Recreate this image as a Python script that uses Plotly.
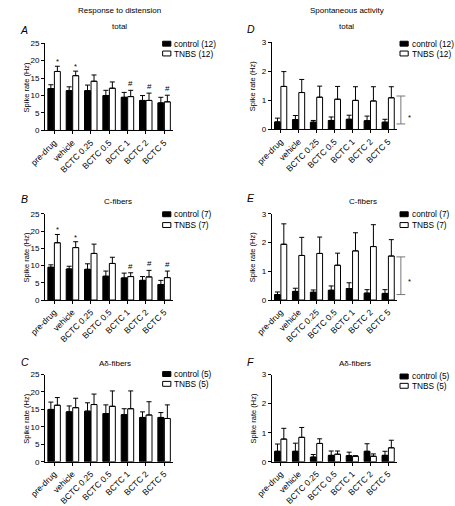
import plotly.graph_objects as go

W, H = 455, 506
FONT = "Liberation Sans, Arial, sans-serif"

categories = ["pre-drug", "vehicle", "BCTC 0.25", "BCTC 0.5", "BCTC 1", "BCTC 2", "BCTC 5"]

# Panel A: response to distension, total
A_control = [12.0, 11.4, 11.4, 10.0, 9.5, 8.6, 7.9]
A_control_sem = [1.1, 1.1, 1.6, 1.5, 1.4, 1.4, 1.6]
A_tnbs = [16.9, 15.7, 14.1, 12.1, 9.7, 8.6, 8.2]
A_tnbs_sem = [1.5, 1.3, 1.8, 1.8, 1.8, 2.1, 1.9]
A_marks = ["*", "*", "", "", "#", "#", "#"]

# Panel B: response to distension, C-fibers
B_control = [9.5, 9.0, 8.9, 6.9, 6.4, 5.7, 4.5]
B_control_sem = [0.7, 0.8, 1.6, 1.5, 1.4, 1.1, 1.2]
B_tnbs = [16.6, 15.2, 13.5, 10.6, 6.8, 6.7, 6.5]
B_tnbs_sem = [2.4, 1.7, 2.7, 1.8, 1.1, 1.9, 1.9]
B_marks = ["*", "*", "", "", "#", "#", "#"]

# Panel C: response to distension, A-delta fibers
C_control = [15.0, 14.3, 14.5, 13.8, 13.5, 12.7, 12.7]
C_control_sem = [2.1, 1.7, 2.4, 2.5, 1.7, 1.6, 1.4]
C_tnbs = [16.2, 15.5, 16.4, 15.9, 15.2, 13.4, 12.4]
C_tnbs_sem = [2.2, 2.7, 3.0, 4.4, 5.1, 3.8, 3.9]
C_marks = ["", "", "", "", "", "", ""]

# Panel D: spontaneous activity, total
D_control = [0.26, 0.34, 0.25, 0.31, 0.35, 0.30, 0.25]
D_control_sem = [0.13, 0.14, 0.06, 0.12, 0.14, 0.16, 0.10]
D_tnbs = [1.48, 1.27, 1.11, 1.04, 1.00, 0.98, 1.09]
D_tnbs_sem = [0.51, 0.45, 0.38, 0.44, 0.47, 0.49, 0.38]
D_bracket = [0.19, 1.15]
D_bracket_star = 0.40

# Panel E: spontaneous activity, C-fibers
E_control = [0.19, 0.30, 0.27, 0.34, 0.40, 0.24, 0.23]
E_control_sem = [0.09, 0.11, 0.08, 0.15, 0.20, 0.12, 0.13]
E_tnbs = [1.94, 1.55, 1.62, 1.21, 1.71, 1.86, 1.53]
E_tnbs_sem = [0.71, 0.63, 0.57, 0.42, 0.63, 0.76, 0.57]
E_bracket = [0.19, 1.50]
E_bracket_star = 0.65

# Panel F: spontaneous activity, A-delta fibers
F_control = [0.36, 0.36, 0.16, 0.22, 0.21, 0.36, 0.22]
F_control_sem = [0.25, 0.28, 0.09, 0.15, 0.12, 0.26, 0.14]
F_tnbs = [0.78, 0.84, 0.63, 0.26, 0.19, 0.19, 0.48]
F_tnbs_sem = [0.37, 0.34, 0.16, 0.11, 0.02, 0.08, 0.26]

legend_n = {"A": 12, "B": 7, "C": 5, "D": 12, "E": 7, "F": 5}
subtitles = {"A": "total", "B": "C-fibers", "C": "Aδ-fibers",
             "D": "total", "E": "C-fibers", "F": "Aδ-fibers"}
y_ranges = {"A": 25, "B": 25, "C": 25, "D": 3, "E": 3, "F": 3}
y_dtick = {"A": 5, "B": 5, "C": 5, "D": 1, "E": 1, "F": 1}


def px(x):
    return x / W


def py(y):
    return 1 - y / H


# layout geometry in pixels: (x0, x1, ytop, ybottom)
geom = {
    "A": (30, 163, 40, 129),
    "B": (30, 163, 214, 302),
    "C": (30, 163, 378, 467),
    "D": (265, 395, 39, 128),
    "E": (265, 395, 214, 302),
    "F": (265, 395, 378, 467),
}
letter_pos = {"A": (2, 27), "B": (3, 199), "C": (3, 365),
              "D": (237, 25), "E": (237, 198), "F": (237, 365)}
subtitle_pos = {"A": (107, 23), "B": (106, 201), "C": (103, 367),
                "D": (343, 23), "E": (360, 201), "F": (351, 367)}
legend_pos = {"A": (152, 40.5, 50.5), "B": (152, 214.5, 225.5), "C": (152, 377.5, 387.5),
              "D": (398, 40.5, 50.5), "E": (398, 214.5, 225.5), "F": (398, 380, 389.5)}

data = {
    "A": (A_control, A_control_sem, A_tnbs, A_tnbs_sem),
    "B": (B_control, B_control_sem, B_tnbs, B_tnbs_sem),
    "C": (C_control, C_control_sem, C_tnbs, C_tnbs_sem),
    "D": (D_control, D_control_sem, D_tnbs, D_tnbs_sem),
    "E": (E_control, E_control_sem, E_tnbs, E_tnbs_sem),
    "F": (F_control, F_control_sem, F_tnbs, F_tnbs_sem),
}
marks = {"A": A_marks, "B": B_marks, "C": C_marks}
brackets = {"D": (D_bracket, D_bracket_star), "E": (E_bracket, E_bracket_star)}

fig = go.Figure()
layout = dict(width=W, height=H, margin=dict(l=0, r=0, t=0, b=0), autosize=False,
              paper_bgcolor="white", plot_bgcolor="white", barmode="group",
              bargap=0.29, bargroupgap=0.08, showlegend=False,
              font=dict(family=FONT, size=8, color="black"))
annotations = []
shapes = []

for i, key in enumerate(["A", "B", "C", "D", "E", "F"]):
    n = i + 1
    xa = "x" if n == 1 else f"x{n}"
    ya = "y" if n == 1 else f"y{n}"
    ctrl, ctrl_sem, tnbs, tnbs_sem = data[key]
    zeros = [0] * len(categories)
    fig.add_trace(go.Bar(
        x=categories, y=ctrl, name=f"control ({legend_n[key]})", xaxis=xa, yaxis=ya,
        marker=dict(color="black", line=dict(color="black", width=1)),
        error_y=dict(type="data", array=ctrl_sem, arrayminus=zeros, symmetric=False,
                     color="black", thickness=1, width=2.5)))
    fig.add_trace(go.Bar(
        x=categories, y=tnbs, name=f"TNBS ({legend_n[key]})", xaxis=xa, yaxis=ya,
        marker=dict(color="white", line=dict(color="black", width=1)),
        error_y=dict(type="data", array=tnbs_sem, arrayminus=zeros, symmetric=False,
                     color="black", thickness=1, width=2.5)))

    x0, x1, yt, yb = geom[key]
    xname = "xaxis" if n == 1 else f"xaxis{n}"
    yname = "yaxis" if n == 1 else f"yaxis{n}"
    layout[xname] = dict(domain=[px(x0), px(x1)], anchor=ya, type="category",
                         showline=True, linecolor="black", linewidth=1,
                         ticks="outside", ticklen=3, tickwidth=1, tickcolor="black",
                         tickangle=-45, showgrid=False, zeroline=False,
                         tickfont=dict(family=FONT, size=8.5, color="black"))
    layout[yname] = dict(domain=[py(yb), py(yt)], anchor=xa,
                         range=[0, y_ranges[key]], dtick=y_dtick[key], tick0=0,
                         showline=True, linecolor="black", linewidth=1,
                         ticks="outside", ticklen=3, tickwidth=1, tickcolor="black",
                         showgrid=False, zeroline=False,
                         tickfont=dict(family=FONT, size=8, color="black"))

    # y title
    annotations.append(dict(text="Spike rate (Hz)", xref="paper", yref="paper",
                            x=px(x0 - 19), y=py((yt + yb) / 2), textangle=-90,
                            showarrow=False, xanchor="center", yanchor="middle",
                            font=dict(family=FONT, size=7.5, color="black")))
    # panel letter
    lx, ly = letter_pos[key]
    annotations.append(dict(text=f"<i>{key}</i>", xref="paper", yref="paper",
                            x=px(lx), y=py(ly), showarrow=False, xanchor="left",
                            yanchor="middle", font=dict(family=FONT, size=10.5, color="black")))
    # subtitle
    sx, sy = subtitle_pos[key]
    annotations.append(dict(text=subtitles[key], xref="paper", yref="paper",
                            x=px(sx), y=py(sy), showarrow=False, xanchor="center",
                            yanchor="middle", font=dict(family=FONT, size=8, color="black")))
    # legend (manual)
    lgx, ly1, ly2 = legend_pos[key]
    for yy, fill, label in [(ly1, "black", f"control ({legend_n[key]})"),
                            (ly2, "white", f"TNBS ({legend_n[key]})")]:
        shapes.append(dict(type="rect", xref="paper", yref="paper",
                           x0=px(lgx), x1=px(lgx + 8.5), y0=py(yy + 2.5), y1=py(yy - 2.5),
                           fillcolor=fill, line=dict(color="black", width=1)))
        annotations.append(dict(text=label, xref="paper", yref="paper",
                                x=px(lgx + 10), y=py(yy), showarrow=False,
                                xanchor="left", yanchor="middle",
                                font=dict(family=FONT, size=8.3, color="black")))
    # significance marks
    if key in marks:
        for c, v, s, m in zip(categories, tnbs, tnbs_sem, marks[key]):
            if m:
                annotations.append(dict(text=m, xref=xa, yref=ya, x=c, y=v + s,
                                        xshift=3.4, yshift=0 if m == "#" else -2,
                                        showarrow=False, xanchor="center", yanchor="bottom",
                                        font=dict(family=FONT, size=8 if m == "#" else 7.5,
                                                  color="black")))
    # brackets
    if key in brackets:
        (b0, b1), star = brackets[key]
        dom = f"{xa} domain"
        bx = 1.03
        cap = 0.035
        gray = "#777777"
        shapes.append(dict(type="line", xref=dom, yref=ya, x0=bx, x1=bx, y0=b0, y1=b1,
                           line=dict(color=gray, width=1)))
        for bb in (b0, b1):
            shapes.append(dict(type="line", xref=dom, yref=ya, x0=bx - cap, x1=bx + cap,
                               y0=bb, y1=bb, line=dict(color=gray, width=1)))
        annotations.append(dict(text="*", xref=dom, yref=ya, x=bx + 0.07, y=star,
                                showarrow=False, xanchor="center", yanchor="middle",
                                font=dict(family=FONT, size=7.5, color="black")))

# column titles
annotations.append(dict(text="Response to distension", xref="paper", yref="paper",
                        x=px(107), y=py(7), showarrow=False, xanchor="center", yanchor="middle",
                        font=dict(family=FONT, size=8, color="black")))
annotations.append(dict(text="Spontaneous activity", xref="paper", yref="paper",
                        x=px(343), y=py(7), showarrow=False, xanchor="center", yanchor="middle",
                        font=dict(family=FONT, size=8, color="black")))

layout["annotations"] = annotations
layout["shapes"] = shapes
fig.update_layout(**layout)
fig.write_html("out.html", config={"displayModeBar": False},
               post_script="document.body.style.margin='0';document.body.style.padding='0';")
